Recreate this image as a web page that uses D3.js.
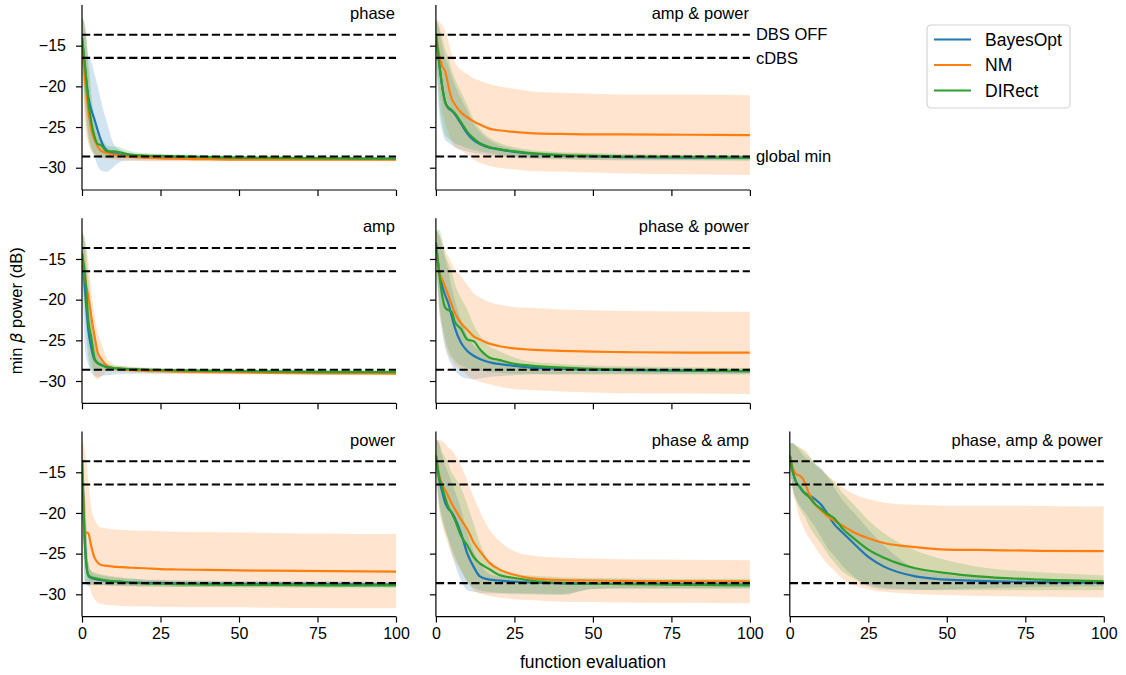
<!DOCTYPE html>
<html>
<head>
<meta charset="utf-8">
<script src="https://cdn.jsdelivr.net/npm/d3@7"></script>
<style>
  html, body { margin: 0; padding: 0; background: #fff; }
  svg { display: block; font-family: "Liberation Sans", Arial, sans-serif; }
</style>
</head>
<body>
<svg id="chart" width="1126" height="675"></svg>
<script>
// Function-evaluation index at which each curve is sampled
const evals = [0, 1, 2, 3, 4, 5, 6, 8, 10, 12, 14, 17, 20, 25, 30, 40, 50, 60, 80, 100];

const methods = ["BayesOpt", "NM", "DIRect"];
const methodColors = ["#1f77b4", "#ff7f0e", "#2ca02c"];

// Reference beta-power levels (dB)
const refLevels = [-13.65, -16.5, -28.62];
const refLabels = ["DBS OFF", "cDBS", "global min"];

const xTicks = [0, 25, 50, 75, 100];
const yTicks = [-30, -25, -20, -15];

// ---- phase ----
const phaseBayesOpt = {
  mean: [-14, -18, -21.3, -22.9, -24.1, -25.4, -26.6, -27.9, -28.2, -28.4, -28.5, -28.65, -28.7, -28.75, -28.8, -28.85, -28.85, -28.9, -28.9, -28.9],
  lo:   [-16.5, -22, -25.8, -27.5, -28.6, -29.8, -30.3, -30.5, -29.9, -29.3, -29.15, -29.1, -29.1, -29.1, -29.1, -29.1, -29.1, -29.1, -29.1, -29.1],
  hi:   [-11.5, -13, -16.4, -17, -18.5, -20, -21.7, -24.5, -27, -27.8, -28.1, -28.35, -28.45, -28.5, -28.55, -28.6, -28.6, -28.65, -28.7, -28.7]
};
const phaseNM = {
  mean: [-14, -19.2, -22.9, -25.4, -26.6, -27.4, -27.9, -28.2, -28.4, -28.5, -28.6, -28.7, -28.75, -28.85, -28.9, -28.95, -29, -29, -29, -29],
  lo:   [-16.5, -25, -27, -28, -28.5, -28.7, -28.8, -28.9, -29, -29.05, -29.1, -29.15, -29.2, -29.2, -29.2, -29.2, -29.2, -29.2, -29.2, -29.2],
  hi:   [-11.5, -13, -18, -22.5, -25, -26.2, -27, -27.6, -27.9, -28.1, -28.2, -28.3, -28.4, -28.5, -28.6, -28.7, -28.8, -28.8, -28.8, -28.8]
};
const phaseDIRect = {
  mean: [-14, -17.6, -21.7, -24.5, -26.2, -27.1, -27.2, -28, -28, -28.1, -28.3, -28.45, -28.5, -28.55, -28.6, -28.7, -28.75, -28.8, -28.85, -28.9],
  lo:   [-16.5, -23, -26.5, -27.8, -28.3, -28.6, -28.7, -28.8, -28.8, -28.8, -28.8, -28.85, -28.85, -28.9, -28.9, -28.95, -29, -29, -29.05, -29.1],
  hi:   [-11.5, -12.5, -16.5, -21, -24, -25.7, -26.2, -27.3, -27.4, -27.5, -27.8, -28.1, -28.2, -28.3, -28.35, -28.45, -28.5, -28.6, -28.65, -28.7]
};

// ---- amp & power ----
const ampPowerBayesOpt = {
  mean: [-13.5, -17, -20, -22, -22.7, -23, -23.4, -24.6, -25.8, -26.6, -27.1, -27.55, -27.75, -28.05, -28.25, -28.5, -28.6, -28.7, -28.75, -28.8],
  lo:   [-15.5, -23, -25.5, -26.6, -26.9, -27.2, -27.5, -27.8, -28, -28.2, -28.3, -28.5, -28.6, -28.8, -28.9, -29, -29.05, -29.1, -29.1, -29.1],
  hi:   [-11.8, -13, -15, -16.5, -17.5, -18.8, -19.8, -21.5, -23, -24.6, -25.6, -26.6, -27.2, -27.7, -28, -28.2, -28.3, -28.4, -28.45, -28.5]
};
const ampPowerNM = {
  mean: [-13.5, -16, -17.5, -18.2, -20, -21.5, -22.2, -23.2, -23.8, -24.3, -24.7, -25.2, -25.4, -25.6, -25.75, -25.85, -25.9, -25.9, -25.95, -26],
  lo:   [-15, -20, -23, -24.5, -25.7, -26.8, -27.4, -27.9, -28.4, -29, -29.4, -29.8, -30, -30.2, -30.4, -30.5, -30.6, -30.7, -30.8, -30.9],
  hi:   [-11.8, -12, -12.5, -13.2, -14.5, -16, -17, -18, -18.5, -19, -19.3, -19.7, -20, -20.3, -20.6, -20.8, -20.9, -21, -21, -21.1]
};
const ampPowerDIRect = {
  mean: [-13.5, -17, -20, -22, -22.6, -22.9, -23.3, -24.4, -25.6, -26.4, -27, -27.45, -27.7, -28, -28.2, -28.45, -28.55, -28.65, -28.7, -28.75],
  lo:   [-15.5, -22, -24.5, -26, -26.4, -26.7, -27, -27.3, -27.6, -27.8, -28, -28.2, -28.4, -28.6, -28.7, -28.9, -29, -29, -29.05, -29.1],
  hi:   [-11.8, -12.5, -14, -15.5, -16.5, -18, -19, -20.7, -22.3, -24.1, -25.2, -26.3, -26.9, -27.5, -27.8, -28.1, -28.2, -28.3, -28.4, -28.5]
};

// ---- amp ----
const ampBayesOpt = {
  mean: [-14.3, -19, -23.7, -26, -27.4, -27.8, -28, -28.3, -28.4, -28.5, -28.55, -28.6, -28.65, -28.7, -28.75, -28.8, -28.85, -28.85, -28.9, -28.9],
  lo:   [-16, -26, -28, -29, -29.4, -29.5, -29.4, -29.3, -29.2, -29.15, -29.1, -29.1, -29.1, -29.1, -29.1, -29.1, -29.1, -29.1, -29.1, -29.1],
  hi:   [-11.7, -14, -20, -23, -25.5, -26.8, -27.2, -28, -28.3, -28.35, -28.4, -28.45, -28.5, -28.55, -28.6, -28.6, -28.65, -28.65, -28.7, -28.7]
};
const ampNM = {
  mean: [-14.3, -17.5, -19.6, -22.2, -24.5, -26.5, -27.2, -28.1, -28.4, -28.5, -28.6, -28.7, -28.75, -28.8, -28.85, -28.9, -28.95, -29, -29.05, -29.1],
  lo:   [-16, -21, -24, -27.5, -29.5, -29.8, -29.5, -28.8, -28.8, -28.85, -28.9, -28.95, -29, -29.05, -29.1, -29.15, -29.2, -29.2, -29.25, -29.3],
  hi:   [-11.7, -13, -15, -19, -22, -24, -25.2, -27.2, -27.9, -28.1, -28.2, -28.3, -28.4, -28.5, -28.55, -28.6, -28.7, -28.75, -28.8, -28.9]
};
const ampDIRect = {
  mean: [-14.3, -17.1, -22.5, -24.8, -27.2, -27.8, -28, -28.3, -28.4, -28.45, -28.5, -28.55, -28.6, -28.65, -28.7, -28.75, -28.8, -28.85, -28.9, -28.9],
  lo:   [-16, -22, -27, -28.5, -28.8, -28.8, -28.7, -28.7, -28.7, -28.7, -28.75, -28.8, -28.8, -28.85, -28.9, -28.95, -29, -29, -29.05, -29.1],
  hi:   [-11.7, -12.5, -17, -21, -25, -27, -27.5, -27.9, -28.1, -28.2, -28.25, -28.3, -28.35, -28.4, -28.45, -28.5, -28.55, -28.6, -28.65, -28.7]
};

// ---- phase & power ----
const phasePowerBayesOpt = {
  mean: [-13, -16.3, -18.3, -19.5, -20.5, -22, -23.4, -25.3, -26.3, -26.9, -27.3, -27.7, -27.9, -28.15, -28.35, -28.5, -28.6, -28.65, -28.75, -28.8],
  lo:   [-14.5, -21, -24, -26, -27.2, -28, -28.7, -29.4, -29.7, -29.8, -29.7, -29.5, -29.4, -29.3, -29.2, -29.15, -29.1, -29.1, -29.1, -29.1],
  hi:   [-11.5, -12, -13.5, -15, -16.5, -18.5, -20, -22.5, -24.5, -25.6, -26.3, -27, -27.4, -27.8, -28, -28.2, -28.3, -28.35, -28.45, -28.5]
};
const phasePowerNM = {
  mean: [-13, -16.5, -17.5, -18.5, -19.5, -20.6, -21.6, -22.9, -23.7, -24.5, -24.9, -25.4, -25.7, -26, -26.15, -26.3, -26.4, -26.45, -26.5, -26.5],
  lo:   [-14.5, -21, -23.5, -25.5, -26.8, -27.4, -28, -28.6, -29.3, -29.8, -30.1, -30.4, -30.7, -31, -31.1, -31.3, -31.4, -31.5, -31.55, -31.6],
  hi:   [-11.6, -12, -13, -14, -14.7, -15.5, -16.2, -17.1, -18.2, -19.2, -19.7, -20.3, -20.6, -20.9, -21, -21.2, -21.3, -21.4, -21.45, -21.5]
};
const phasePowerDIRect = {
  mean: [-13, -16.6, -19.5, -21, -21.3, -21.5, -22.7, -23.6, -24.9, -25.1, -26.1, -27.1, -27.4, -27.9, -28.1, -28.35, -28.5, -28.6, -28.7, -28.8],
  lo:   [-14.6, -20, -23, -24.9, -26.2, -27, -27.5, -28.1, -28.4, -28.6, -28.75, -28.9, -29, -29.1, -29.1, -29.2, -29.2, -29.2, -29.2, -29.2],
  hi:   [-11.4, -11.4, -12.5, -14.5, -15.5, -16.5, -18, -19.8, -21.2, -23.1, -24.4, -25.7, -26.3, -27.1, -27.6, -27.9, -28.1, -28.2, -28.3, -28.4]
};

// ---- power ----
const powerBayesOpt = {
  mean: [-13.5, -24, -27.7, -28, -28.1, -28.2, -28.25, -28.35, -28.4, -28.45, -28.5, -28.55, -28.6, -28.6, -28.65, -28.7, -28.7, -28.7, -28.75, -28.8],
  lo:   [-16, -28.5, -29, -28.9, -28.9, -28.9, -28.9, -28.95, -29, -29, -29, -29, -29.05, -29.05, -29.1, -29.1, -29.1, -29.1, -29.1, -29.1],
  hi:   [-11, -18, -26, -27.2, -27.5, -27.6, -27.7, -27.8, -27.9, -28, -28.05, -28.1, -28.2, -28.2, -28.25, -28.3, -28.35, -28.35, -28.4, -28.5]
};
const powerNM = {
  mean: [-13.5, -22.3, -22.5, -24.2, -25.5, -26.1, -26.4, -26.5, -26.6, -26.65, -26.7, -26.75, -26.8, -26.9, -26.95, -27, -27.05, -27.1, -27.15, -27.2],
  lo:   [-16, -26, -28.5, -29.8, -30.6, -31, -31.2, -31.3, -31.35, -31.4, -31.45, -31.5, -31.5, -31.55, -31.55, -31.6, -31.6, -31.65, -31.7, -31.7],
  hi:   [-11, -12.5, -16, -19.5, -20.8, -21.5, -21.8, -21.9, -22, -22.05, -22.1, -22.15, -22.2, -22.25, -22.3, -22.35, -22.4, -22.45, -22.55, -22.6]
};
const powerDIRect = {
  mean: [-13.5, -24.5, -27.6, -27.9, -28, -28.1, -28.2, -28.3, -28.4, -28.45, -28.5, -28.6, -28.65, -28.7, -28.75, -28.8, -28.85, -28.85, -28.9, -28.9],
  lo:   [-16, -28.5, -28.9, -28.8, -28.8, -28.8, -28.85, -28.85, -28.9, -28.9, -28.95, -29, -29.05, -29.05, -29.1, -29.1, -29.15, -29.15, -29.2, -29.2],
  hi:   [-11, -18.5, -26.2, -27.1, -27.3, -27.4, -27.5, -27.7, -27.8, -27.9, -28, -28.1, -28.2, -28.3, -28.35, -28.4, -28.5, -28.5, -28.55, -28.6]
};

// ---- phase & amp ----
const phaseAmpBayesOpt = {
  mean: [-12.9, -15.8, -17.4, -18.8, -19.5, -19.9, -20.6, -22.5, -25, -26.6, -27.8, -28.2, -28.3, -28.45, -28.55, -28.65, -28.7, -28.7, -28.75, -28.8],
  lo:   [-14.8, -18.5, -20.5, -22, -23.5, -25, -26.2, -28.3, -29.5, -29.7, -29.8, -29.9, -29.9, -30, -30, -30.1, -29.35, -29.3, -29.3, -29.3],
  hi:   [-11, -11.5, -13, -14.2, -15.2, -16.2, -17.3, -19.5, -22.5, -24.7, -26.2, -27.5, -27.8, -28, -28.1, -28.2, -28.3, -28.3, -28.35, -28.4]
};
const phaseAmpNM = {
  mean: [-12.9, -15.2, -16.5, -17.2, -18, -18.8, -19.5, -20.8, -22, -23.6, -24.7, -26.1, -26.9, -27.6, -28, -28.25, -28.3, -28.35, -28.4, -28.4],
  lo:   [-14.8, -19.5, -21.5, -22.8, -24, -25, -25.8, -27.2, -28.3, -29.5, -29.9, -30.2, -30.4, -30.6, -30.7, -30.9, -30.95, -31, -31.05, -31.1],
  hi:   [-11, -11, -11.2, -11.5, -12, -12.3, -12.8, -14.2, -16, -18, -19.8, -22, -23.4, -24.7, -25.2, -25.5, -25.6, -25.7, -25.75, -25.8]
};
const phaseAmpDIRect = {
  mean: [-12.9, -15.5, -16.8, -18.2, -19.3, -20, -20.8, -22.8, -24, -25.4, -26.2, -26.9, -27.6, -28, -28.3, -28.6, -28.7, -28.75, -28.85, -28.9],
  lo:   [-14.8, -19, -21, -22.3, -23.2, -24.3, -25.3, -27, -28.5, -29.2, -29.5, -29.7, -29.8, -29.85, -29.9, -29.95, -29.35, -29.3, -29.3, -29.3],
  hi:   [-11, -11.3, -12.5, -13.2, -14, -15, -15.6, -16.9, -19, -21.3, -23.7, -26, -27, -27.5, -27.7, -27.9, -28, -28.05, -28.1, -28.1]
};

// ---- phase, amp & power ----
const allParamsBayesOpt = {
  mean: [-12.9, -15, -16.2, -16.7, -17.3, -17.6, -17.8, -18.3, -19, -20.1, -21.3, -22.5, -23.6, -25.4, -26.6, -27.8, -28.2, -28.35, -28.5, -28.6],
  lo:   [-14.3, -17, -18.2, -19, -19.5, -20, -20.6, -21.7, -23, -24.3, -25.2, -26.6, -27.7, -29, -29.4, -29.5, -29.4, -29.3, -29.1, -29],
  hi:   [-11.4, -11.4, -11.8, -12.3, -12.8, -13.2, -13.5, -14, -14.5, -15.5, -16.8, -18.5, -19.8, -22, -24, -26.8, -27.6, -27.9, -28.1, -28.2]
};
const allParamsNM = {
  mean: [-12.9, -14.5, -15.2, -15.4, -15.7, -16.5, -17.5, -18.9, -19.7, -20.4, -20.9, -21.6, -22.3, -23.1, -23.7, -24.2, -24.5, -24.55, -24.65, -24.7],
  lo:   [-14.3, -17.5, -19, -20.5, -21.5, -22.3, -23, -24.2, -25.3, -26.3, -27, -28.2, -28.8, -29.4, -29.7, -29.95, -30.1, -30.2, -30.3, -30.4],
  hi:   [-11.6, -11.6, -11.7, -11.9, -12.1, -12.3, -12.8, -14, -14.7, -15.4, -16, -16.9, -17.6, -18.3, -18.7, -19, -19.1, -19.1, -19.15, -19.2]
};
const allParamsDIRect = {
  mean: [-12.9, -15, -16.2, -16.7, -17.2, -17.7, -18, -18.9, -19.5, -20.1, -20.6, -22, -23, -24.5, -25.5, -26.8, -27.4, -27.8, -28.2, -28.4],
  lo:   [-14.3, -17.2, -18.4, -19.3, -20, -20.6, -21.5, -22.7, -23.8, -25, -26, -27.3, -28, -28.8, -29.2, -29.4, -29.5, -29.5, -29.5, -29.5],
  hi:   [-11.4, -11.4, -11.7, -12, -12.3, -12.7, -13, -13.9, -14.7, -15.5, -16.2, -17.6, -18.8, -20.9, -22.5, -24.6, -25.8, -26.6, -27.3, -27.7]
};

// Panel titles with their grid cell and series (BayesOpt, NM, DIRect)
const panelTitles = ["phase", "amp & power", "amp", "phase & power", "power", "phase & amp", "phase, amp & power"];
const panelCells = [[0, 0], [0, 1], [1, 0], [1, 1], [2, 0], [2, 1], [2, 2]];
const panelSeries = [
  [phaseBayesOpt, phaseNM, phaseDIRect],
  [ampPowerBayesOpt, ampPowerNM, ampPowerDIRect],
  [ampBayesOpt, ampNM, ampDIRect],
  [phasePowerBayesOpt, phasePowerNM, phasePowerDIRect],
  [powerBayesOpt, powerNM, powerDIRect],
  [phaseAmpBayesOpt, phaseAmpNM, phaseAmpDIRect],
  [allParamsBayesOpt, allParamsNM, allParamsDIRect]
];

// ---- layout ----
const svg = d3.select("#chart");
const left0 = 82, colStep = 353.9, panelW = 314;
const top0 = 5, rowStep = 213.3, panelH = 185;
const fontTick = 16, fontTitle = 16.5;

const x = d3.scaleLinear().domain([0, 100]).range([0, panelW]);
const y = d3.scaleLinear().domain([-32.74, -10]).range([panelH, 0]);

const lineGen = arr => d3.line()
  .x((d, i) => x(evals[i]))
  .y(d => y(d))
  .curve(d3.curveMonotoneX)(arr);

const bandGen = (lo, hi) => d3.area()
  .x((d, i) => x(evals[i]))
  .y0((d, i) => y(lo[i]))
  .y1((d, i) => y(hi[i]))
  .curve(d3.curveMonotoneX)(lo);

svg.append("defs").append("clipPath").attr("id", "plotClip")
  .append("rect").attr("x", 0).attr("y", 0).attr("width", panelW).attr("height", panelH);

panelTitles.forEach((title, p) => {
  const [row, col] = panelCells[p];
  const g = svg.append("g")
    .attr("transform", `translate(${left0 + col * colStep},${top0 + row * rowStep})`);
  const series = panelSeries[p];
  const plot = g.append("g").attr("clip-path", "url(#plotClip)");

  // shaded spread bands, then mean curves
  series.forEach((s, k) => {
    plot.append("path")
      .attr("d", bandGen(s.lo, s.hi))
      .attr("fill", methodColors[k])
      .attr("fill-opacity", 0.2)
      .attr("stroke", "none");
  });
  series.forEach((s, k) => {
    plot.append("path")
      .attr("d", lineGen(s.mean))
      .attr("fill", "none")
      .attr("stroke", methodColors[k])
      .attr("stroke-width", 2.2)
      .attr("stroke-linejoin", "round");
  });

  // reference levels
  refLevels.forEach(v => {
    g.append("line")
      .attr("x1", x(0)).attr("x2", x(100))
      .attr("y1", y(v)).attr("y2", y(v))
      .attr("stroke", "#000")
      .attr("stroke-width", 2.1)
      .attr("stroke-dasharray", "8.2,3.6");
  });

  // axes
  const xAxis = d3.axisBottom(x).tickValues(xTicks).tickSize(6).tickPadding(5)
    .tickFormat(row === 2 ? d3.format("d") : () => "");
  const yAxis = d3.axisLeft(y).tickValues(yTicks).tickSize(6).tickPadding(10)
    .tickFormat(col === 0 ? (d => "\u2212" + Math.abs(d)) : () => "");

  const gx = g.append("g").attr("transform", `translate(0,${panelH})`).call(xAxis);
  const gy = g.append("g").call(yAxis);
  [gx, gy].forEach(a => {
    a.select(".domain").attr("stroke", "#000").attr("stroke-width", 1.2);
    a.selectAll(".tick line").attr("stroke", "#000").attr("stroke-width", 1.2);
    a.selectAll(".tick text").attr("fill", "#000")
      .style("font-size", fontTick + "px")
      .style("font-family", "'Liberation Sans', Arial, sans-serif");
  });
  // the spines meet the axis limits exactly
  gx.select(".domain").attr("d", `M0,0H${panelW}`);
  gx.selectAll(".tick line").attr("y2", 6);
  gy.select(".domain").attr("d", `M0,0V${panelH}`);

  g.append("text")
    .attr("x", panelW - 1).attr("y", 14)
    .attr("text-anchor", "end")
    .style("font-size", fontTitle + "px")
    .text(title);

  // level names beside the top-right panel
  if (p === 1) {
    refLevels.forEach((v, i) => {
      g.append("text")
        .attr("x", panelW + 6).attr("y", y(v))
        .attr("dy", "0.35em")
        .style("font-size", "16.5px")
        .text(refLabels[i]);
    });
  }
});

// shared axis labels
svg.append("text")
  .attr("x", left0 + colStep + panelW / 2).attr("y", 668)
  .attr("text-anchor", "middle")
  .style("font-size", "17.5px")
  .text("function evaluation");

const ylab = svg.append("text")
  .attr("transform", `translate(22,${top0 + rowStep + panelH / 2}) rotate(-90)`)
  .attr("text-anchor", "middle")
  .style("font-size", "16.5px");
ylab.append("tspan").text("min ");
ylab.append("tspan").style("font-style", "italic").style("font-family", "'DejaVu Sans', sans-serif").text("\u03b2");
ylab.append("tspan").text(" power (dB)");

// legend
const legend = svg.append("g").attr("transform", "translate(927,25)");
legend.append("rect")
  .attr("x", 0).attr("y", 0).attr("width", 143).attr("height", 83)
  .attr("rx", 4).attr("ry", 4)
  .attr("fill", "#fff").attr("fill-opacity", 0.8)
  .attr("stroke", "#d4d4d4").attr("stroke-width", 1.2);
methods.forEach((m, i) => {
  const ly = 14.5 + i * 25.5;
  legend.append("line")
    .attr("x1", 7).attr("x2", 44).attr("y1", ly).attr("y2", ly)
    .attr("stroke", methodColors[i]).attr("stroke-width", 2.2);
  legend.append("text")
    .attr("x", 58).attr("y", ly).attr("dy", "0.35em")
    .style("font-size", "17.5px")
    .text(m);
});
</script>
</body>
</html>
